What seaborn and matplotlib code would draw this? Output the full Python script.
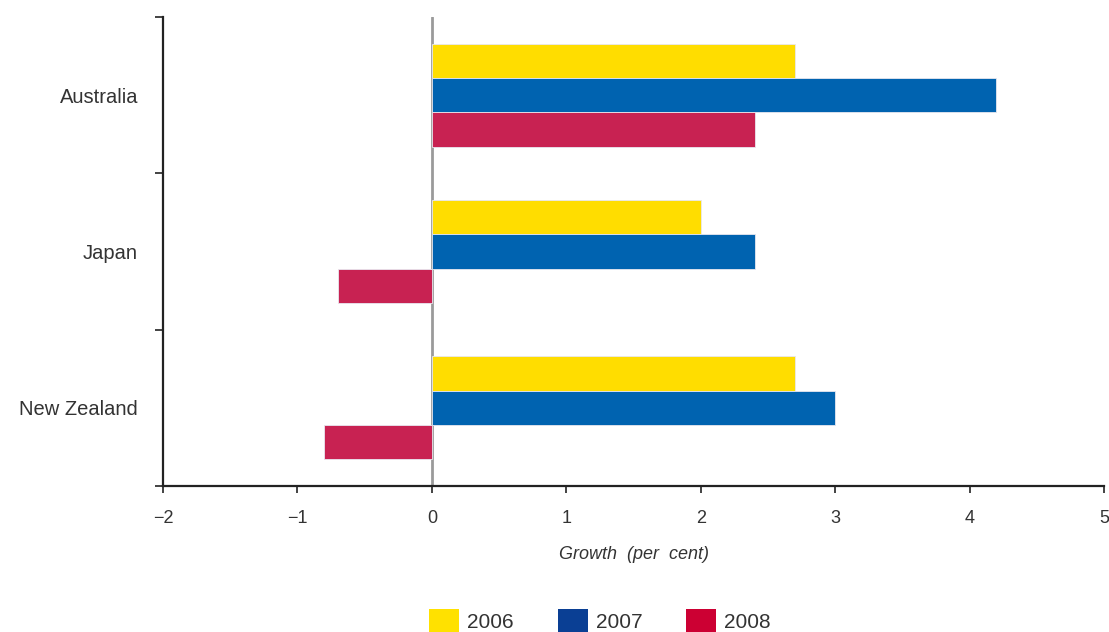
import matplotlib
matplotlib.use("Agg")
import matplotlib.pyplot as plt
from matplotlib.patches import Patch
from matplotlib.ticker import FixedLocator
import seaborn as sns
import pandas as pd

# Real GDP growth by country and year
countries = ["Australia", "Japan", "New Zealand"]
years = ["2006", "2007", "2008"]
growth_2006 = [2.7, 2.0, 2.7]
growth_2007 = [4.2, 2.4, 3.0]
growth_2008 = [2.4, -0.7, -0.8]
x_ticks = [-2, -1, 0, 1, 2, 3, 4, 5]

bar_colors = ["#FFDD00", "#0063B0", "#C82252"]
legend_colors = ["#FFE100", "#0A3F94", "#CC0033"]

df = pd.DataFrame({
    "country": countries * 3,
    "year": [years[0]] * 3 + [years[1]] * 3 + [years[2]] * 3,
    "growth": growth_2006 + growth_2007 + growth_2008,
})

sns.set_style("white")
plt.rcParams["font.family"] = ["Liberation Sans", "DejaVu Sans"]
text_color = "#333333"

fig = plt.figure(figsize=(11.09, 6.32), dpi=100)
ax = fig.add_axes([0.147, 0.231, 0.8485, 0.742])

sns.barplot(data=df, x="growth", y="country", hue="year", order=countries,
            hue_order=years, palette=bar_colors, orient="h", width=0.66,
            edgecolor="#e8e8f0", linewidth=0.6, saturation=1, ax=ax,
            legend=False, errorbar=None)

ax.axvline(0, color="#9a9a9a", lw=2, zorder=0.5)

ax.set_xlim(-2, 5)
ax.set_ylim(2.5, -0.5)
ax.set_xticks(x_ticks)
ax.set_xticklabels([f"{t}".replace("-", "\u2212") for t in x_ticks])

for side in ["top", "right"]:
    ax.spines[side].set_visible(False)
for side in ["left", "bottom"]:
    ax.spines[side].set_color("#222222")
    ax.spines[side].set_linewidth(1.6)

ax.tick_params(axis="x", which="major", direction="out", length=5, width=1.2,
               color="#222222", labelsize=13, labelcolor=text_color, pad=12,
               bottom=True)
ax.tick_params(axis="y", which="major", length=0, labelsize=14.5,
               labelcolor=text_color, pad=18)
ax.yaxis.set_minor_locator(FixedLocator([-0.5, 0.5, 1.5, 2.5]))
ax.tick_params(axis="y", which="minor", direction="out", length=6, width=1.2,
               color="#222222", left=True)

ax.set_ylabel("")
ax.set_xlabel("Growth  (per  cent)", fontsize=13, style="italic",
              color=text_color, labelpad=14)

handles = [Patch(facecolor=c, edgecolor="none", label=y)
           for c, y in zip(legend_colors, years)]
fig.legend(handles=handles, loc="center", bbox_to_anchor=(600 / 1109, 1 - 621 / 632),
           ncol=3, frameon=False, fontsize=15, handlelength=1.45,
           handleheight=1.4, handletextpad=0.38, columnspacing=2.1,
           labelcolor=text_color)

fig.savefig("out.png", dpi=100)
